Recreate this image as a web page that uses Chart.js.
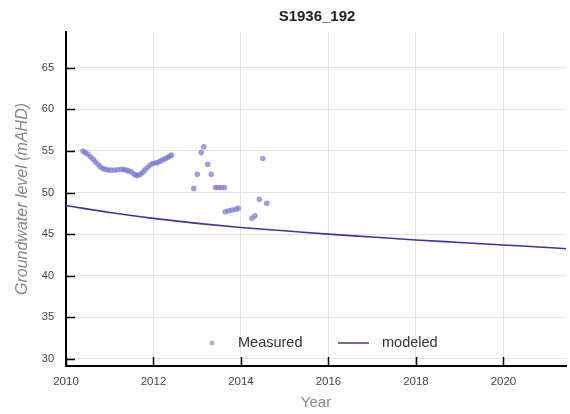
<!DOCTYPE html>
<html>
<head>
<meta charset="utf-8">
<script src="https://cdn.jsdelivr.net/npm/chart.js@4.4.1/dist/chart.umd.min.js"></script>
<style>
  html, body { margin: 0; padding: 0; background: #ffffff; }
  #wrap { width: 570px; height: 414px; position: relative; }
</style>
</head>
<body>
<div id="wrap"><canvas id="c" width="570" height="414"></canvas></div>
<script>
// ---- data ----
const chartTitle = "S1936_192";
const xAxisTitle = "Year";
const yAxisTitle = "Groundwater level (mAHD)";
const seriesNames = ["Measured", "modeled"];

const measuredYears = [
  2010.39, 2010.44, 2010.50, 2010.56, 2010.62, 2010.67, 2010.73, 2010.78, 2010.84, 2010.90,
  2010.96, 2011.03, 2011.11, 2011.18, 2011.26, 2011.32, 2011.37, 2011.43, 2011.49, 2011.56,
  2011.60, 2011.64, 2011.70, 2011.75, 2011.80, 2011.86, 2011.92, 2011.98, 2012.04, 2012.09,
  2012.15, 2012.20, 2012.26, 2012.32, 2012.37, 2012.41,
  2012.92, 2013.00, 2013.09, 2013.15, 2013.24, 2013.32, 2013.42, 2013.48, 2013.55, 2013.62,
  2013.64, 2013.72, 2013.80, 2013.88, 2013.94, 2014.25, 2014.32, 2014.42, 2014.50, 2014.59
];
const measuredLevels = [
  55.0, 54.8, 54.6, 54.3, 54.0, 53.7, 53.4, 53.1, 52.9, 52.8,
  52.7, 52.7, 52.7, 52.75, 52.8, 52.75, 52.7, 52.6, 52.5, 52.2,
  52.1, 52.05, 52.2, 52.4, 52.7, 53.0, 53.3, 53.5, 53.55, 53.6,
  53.75, 53.9, 54.05, 54.2, 54.35, 54.5,
  50.5, 52.2, 54.8, 55.5, 53.4, 52.2, 50.6, 50.6, 50.6, 50.6,
  47.7, 47.8, 47.9, 48.0, 48.1, 46.9, 47.2, 49.2, 54.1, 48.7
];

const modelYears  = [2010, 2011, 2012, 2013, 2014, 2015, 2016, 2017, 2018, 2019, 2020, 2021, 2021.43];
const modelLevels = [48.45, 47.6, 46.9, 46.3, 45.8, 45.4, 45.0, 44.65, 44.3, 44.0, 43.7, 43.4, 43.25];

const xTickLabels = [2010, 2012, 2014, 2016, 2018, 2020];
const yTickLabels = [30, 35, 40, 45, 50, 55, 60, 65];
const xRange = [2010, 2021.43];
const yRange = [29.15, 69.3];

// ---- build datasets ----
const measuredData = measuredYears.map((x, i) => ({ x: x, y: measuredLevels[i] }));
const modelData = modelYears.map((x, i) => ({ x: x, y: modelLevels[i] }));

const FONT = "'Liberation Sans', Arial, Helvetica, sans-serif";
const measuredColor = "rgba(120, 120, 212, 0.72)";
const legendDotColor = "rgba(160, 160, 200, 0.8)";
const modelColor = "#38389a";

function setTicks(values) {
  return function (scale) {
    scale.ticks = values.map(v => ({ value: v }));
  };
}

const decorPlugin = {
  id: 'decor',
  afterDraw(chart) {
    const ctx = chart.ctx;
    const area = chart.chartArea;
    const xs = chart.scales.x, ys = chart.scales.y;
    ctx.save();
    // inside tick marks
    ctx.strokeStyle = '#000';
    ctx.lineWidth = 1.5;
    ys.ticks.forEach(t => {
      const py = Math.round(ys.getPixelForValue(t.value)) + 0.5;
      ctx.beginPath(); ctx.moveTo(area.left, py); ctx.lineTo(area.left + 9, py); ctx.stroke();
    });
    xs.ticks.forEach(t => {
      const px = Math.round(xs.getPixelForValue(t.value)) + 0.5;
      ctx.beginPath(); ctx.moveTo(px, area.bottom); ctx.lineTo(px, area.bottom - 9); ctx.stroke();
    });
    // title
    ctx.fillStyle = '#222';
    ctx.font = "bold 15px " + FONT;
    ctx.textAlign = 'center';
    ctx.textBaseline = 'middle';
    ctx.fillText(chartTitle, (area.left + area.right) / 2 + 1, 16.5);
    // legend inside the plot area
    const ly = area.bottom - 23;
    const lx = area.left + 146;
    ctx.fillStyle = legendDotColor;
    ctx.beginPath(); ctx.arc(lx, ly, 2.5, 0, Math.PI * 2); ctx.fill();
    ctx.fillStyle = '#333';
    ctx.font = "14.5px " + FONT;
    ctx.textAlign = 'left';
    ctx.fillText(seriesNames[0], lx + 26, ly);
    ctx.strokeStyle = modelColor;
    ctx.lineWidth = 1.5;
    ctx.beginPath(); ctx.moveTo(lx + 126, ly); ctx.lineTo(lx + 157, ly); ctx.stroke();
    ctx.fillText(seriesNames[1], lx + 170, ly);
    ctx.restore();
  }
};

new Chart(document.getElementById('c'), {
  type: 'scatter',
  data: {
    datasets: [
      {
        label: seriesNames[0],
        data: measuredData,
        showLine: false,
        pointRadius: 2.8,
        pointBorderWidth: 0,
        pointBackgroundColor: measuredColor,
        pointBorderColor: measuredColor
      },
      {
        label: seriesNames[1],
        data: modelData,
        showLine: true,
        borderColor: modelColor,
        borderWidth: 1.6,
        pointRadius: 0,
        cubicInterpolationMode: 'monotone',
        fill: false
      }
    ]
  },
  options: {
    responsive: false,
    animation: false,
    devicePixelRatio: 1,
    layout: { padding: { top: 32, right: 0, left: 0, bottom: 0 } },
    plugins: {
      legend: { display: false },
      title: { display: false },
      tooltip: { enabled: false }
    },
    scales: {
      x: {
        type: 'linear',
        min: xRange[0],
        max: xRange[1],
        afterBuildTicks: setTicks(xTickLabels),
        afterFit(scale) { scale.height = 48; },
        ticks: {
          color: '#444',
          font: { family: FONT, size: 11.5 },
          padding: 9,
          maxRotation: 0,
          autoSkip: false,
          callback: v => String(v)
        },
        grid: { color: '#e3e3e3', lineWidth: 1, drawTicks: false },
        border: { color: '#000', width: 2 },
        title: {
          display: true,
          text: xAxisTitle,
          color: '#888',
          font: { family: FONT, size: 15 },
          padding: { top: 0, bottom: 2 }
        }
      },
      y: {
        type: 'linear',
        min: yRange[0],
        max: yRange[1],
        afterBuildTicks: setTicks(yTickLabels),
        afterFit(scale) { scale.width = 66; },
        ticks: {
          color: '#444',
          font: { family: FONT, size: 11 },
          padding: 12,
          autoSkip: false
        },
        grid: { color: '#e3e3e3', lineWidth: 1, drawTicks: false },
        border: { color: '#000', width: 2 },
        title: {
          display: true,
          text: yAxisTitle,
          color: '#888',
          font: { family: FONT, size: 16, style: 'italic' },
          padding: { top: 13, bottom: 0 }
        }
      }
    }
  },
  plugins: [decorPlugin]
});
</script>
</body>
</html>
